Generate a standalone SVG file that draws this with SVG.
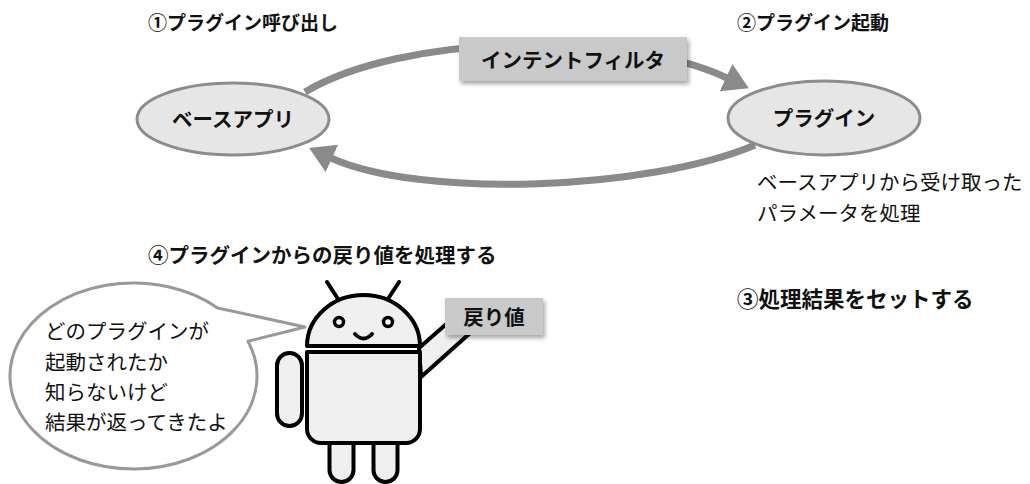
<svg xmlns="http://www.w3.org/2000/svg" width="1030" height="484" viewBox="0 0 1030 484">
  <style>
    text { font-family: "Noto Sans CJK JP", "Noto Sans", sans-serif; font-size: 20.5px; fill: #111; }
    .b { font-weight: 700; }
    .c { text-anchor: middle; dominant-baseline: central; }
    .m { dominant-baseline: central; }
    .s19 { font-size: 19px; }
    .s21 { font-size: 21.5px; }
    .flow { fill: none; stroke: #8a8a8a; stroke-width: 7; }
    .app { fill: #e6e6e6; stroke: #8c8c8c; stroke-width: 3; }
    .tag { fill: #c9c9c9; }
    .droid { fill: #efefef; stroke: #000; stroke-width: 4; stroke-linejoin: round; stroke-linecap: round; }
  </style>
  <defs>
    <marker id="ah" markerUnits="userSpaceOnUse" viewBox="0 0 26 30" markerWidth="26" markerHeight="30" refX="1" refY="15" orient="auto">
      <path d="M0,0 L25,15 L0,30 z" fill="#8a8a8a"/>
    </marker>
    <filter id="shadow" x="-10%" y="-20%" width="130%" height="160%">
      <feDropShadow dx="2" dy="3" stdDeviation="2" flood-color="#000" flood-opacity="0.35"/>
    </filter>
  </defs>

  <rect width="1030" height="484" fill="#fff"/>

  <!-- connectors -->
  <g id="connectors">
    <path class="flow" d="M305,92 C400,35 620,28 727,78" marker-end="url(#ah)"/>
    <path class="flow" d="M755,145 C650,190 421,199 331,158" marker-end="url(#ah)"/>
  </g>

  <!-- step labels -->
  <g id="labels">
    <text class="b m s19" x="148" y="21">①プラグイン呼び出し</text>
    <text class="b m s19" x="737" y="21">②プラグイン起動</text>
    <text class="b m" x="148" y="254">④プラグインからの戻り値を処理する</text>
    <text class="b m s21" x="737" y="297">③処理結果をセットする</text>
  </g>

  <g id="base-app">
    <ellipse class="app" cx="233" cy="119" rx="96" ry="36"/>
    <text class="b c" x="233" y="118">ベースアプリ</text>
  </g>

  <g id="intent-filter">
    <rect class="tag" x="459" y="37" width="228" height="44" filter="url(#shadow)"/>
    <text class="b c" x="573" y="59">インテントフィルタ</text>
  </g>

  <g id="plugin">
    <ellipse class="app" cx="824" cy="118" rx="96" ry="37"/>
    <text class="b c" x="824" y="117">プラグイン</text>
  </g>

  <g id="plugin-note">
    <text class="m" x="757" y="181">ベースアプリから受け取った</text>
    <text class="m" x="757" y="212">パラメータを処理</text>
  </g>

  <g id="speech">
    <path d="M305,327 L217.7,308 A123.5,93 0 1 0 248,341.2 Z" fill="#fff" stroke="#999" stroke-width="3" stroke-linejoin="round"/>
    <text class="m" x="45" y="330">どのプラグインが</text>
    <text class="m" x="45" y="361">起動されたか</text>
    <text class="m" x="45" y="391">知らないけど</text>
    <text class="m" x="45" y="421">結果が返ってきたよ</text>
  </g>

  <g id="droid">
    <polygon class="droid" points="419,348 460,312 478,326 421,377"/>
    <path class="droid" d="M329.5,438 V470 A12,12 0 0 0 353.5,470 V438 Z"/>
    <path class="droid" d="M373.5,438 V470 A12,12 0 0 0 397.5,470 V438 Z"/>
    <path class="droid" d="M307,352 H420 V429 A14,14 0 0 1 406,443 H321 A14,14 0 0 1 307,429 Z"/>
    <rect class="droid" x="277" y="353" width="25" height="73" rx="12.5"/>
    <path class="droid" d="M307,346 A56.5,51 0 0 1 420,346 Z"/>
    <line class="droid" x1="327" y1="282" x2="338" y2="299"/>
    <line class="droid" x1="399" y1="282" x2="388" y2="299"/>
    <circle cx="339" cy="322" r="4.5" fill="#fff" stroke="#000" stroke-width="3.5"/>
    <circle cx="388" cy="322" r="4.5" fill="#fff" stroke="#000" stroke-width="3.5"/>
    <path d="M355,334 Q363.5,343 372,334" fill="none" stroke="#000" stroke-width="4" stroke-linecap="round"/>
  </g>

  <g id="return-value">
    <rect class="tag" x="445" y="298" width="98" height="37" filter="url(#shadow)"/>
    <text class="b c" x="494" y="316">戻り値</text>
  </g>
</svg>
